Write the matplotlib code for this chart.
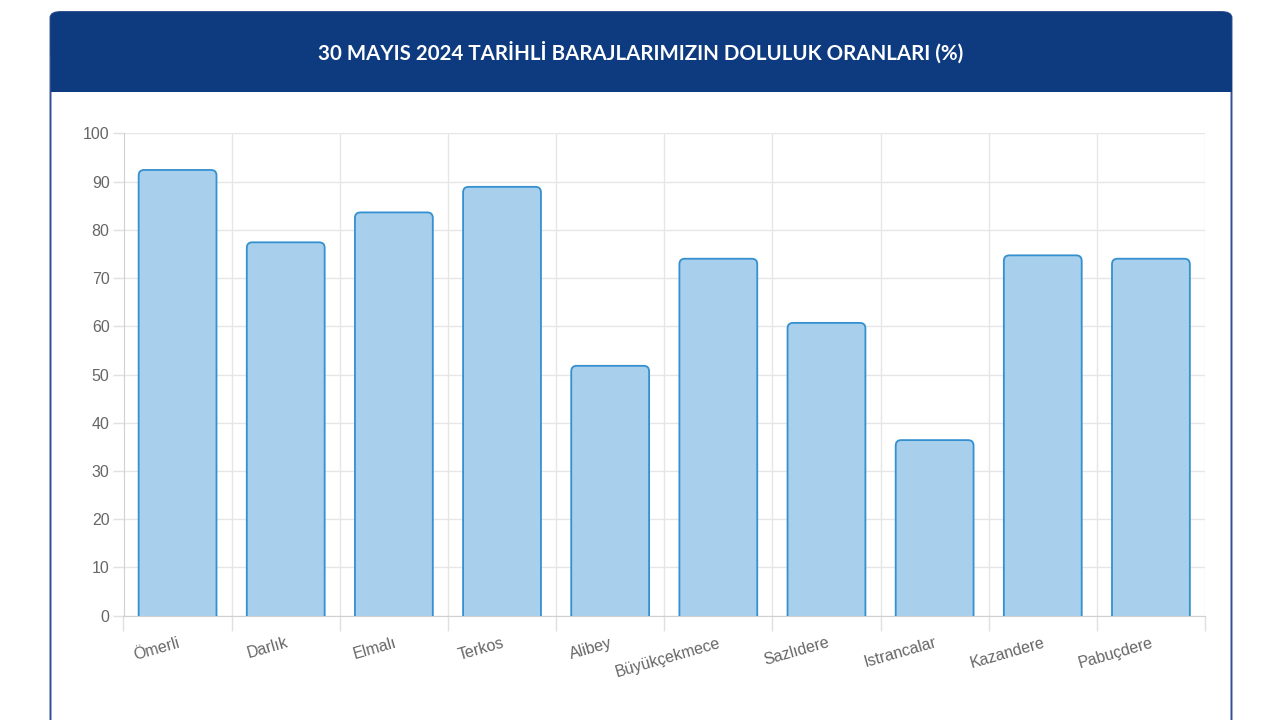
import matplotlib
matplotlib.use("Agg")
import matplotlib.pyplot as plt
from matplotlib.patches import FancyBboxPatch, Rectangle

dams = ["Ömerli", "Darlık", "Elmalı", "Terkos", "Alibey", "Büyükçekmece",
        "Sazlıdere", "Istrancalar", "Kazandere", "Pabuçdere"]
fill_pct = [92.4, 77.4, 83.6, 88.9, 51.8, 74.0, 60.7, 36.4, 74.7, 74.0]
yticks = list(range(0, 101, 10))
title = "30 MAYIS 2024 TARİHLİ BARAJLARIMIZIN DOLULUK ORANLARI (%)"

W, H = 1280, 720
fig = plt.figure(figsize=(W / 100, H / 100), dpi=100)
fig.patch.set_facecolor("white")


# pixel -> figure fraction
def fx(px):
    return px / W


def fy(py):
    return 1 - py / H


card_border = "#2f4f8f"
header_col = "#0e3a80"
fig.patches.append(FancyBboxPatch((fx(50.5), fy(760)), fx(1181), fy(12) - fy(760),
                                  boxstyle="round,pad=0,rounding_size=0.008",
                                  transform=fig.transFigure, facecolor="white",
                                  edgecolor=card_border, linewidth=1.4, zorder=-3))
fig.patches.append(FancyBboxPatch((fx(50.5), fy(60)), fx(1181), fy(12) - fy(60),
                                  boxstyle="round,pad=0,rounding_size=0.008",
                                  transform=fig.transFigure, facecolor=header_col,
                                  edgecolor="none", zorder=-2))
fig.patches.append(Rectangle((fx(50.5), fy(92)), fx(1181), fy(40) - fy(92),
                             transform=fig.transFigure, facecolor=header_col,
                             edgecolor="none", zorder=-2))
fig.text(fx(641), fy(52), title, color="white", fontsize=14.8, fontweight="bold",
         family=["Lato", "DejaVu Sans"], ha="center", va="center", zorder=3)

ax = fig.add_axes([fx(123.5), fy(615.7), fx(1205) - fx(123.5), fy(133.3) - fy(615.7)])
ax.set_facecolor("none")

x = list(range(len(dams)))
bars = ax.bar(x, fill_pct, width=0.72, color="none", edgecolor="none")

# rounded-top bars built from the bar rectangles
px_per_x = (1205 - 123.5) / len(dams)
px_per_y = (615.7 - 133.3) / 100
r_px = 5.5
for rect in bars:
    bx, bw, bh = rect.get_x(), rect.get_width(), rect.get_height()
    p = FancyBboxPatch((bx, -3), bw, bh + 3,
                       boxstyle="round,pad=0,rounding_size=%f" % (r_px / px_per_x),
                       mutation_aspect=px_per_x / px_per_y,
                       facecolor="#a8cfec", edgecolor="#3590d0", linewidth=1.3,
                       zorder=3, clip_on=True)
    ax.add_patch(p)

ax.set_xlim(-0.5, len(dams) - 0.5)
ax.set_ylim(0, 100)
ax.set_yticks(yticks)
ax.set_yticklabels([str(v) for v in yticks])

# vertical grid at category boundaries
ax.set_xticks([i - 0.5 for i in range(len(dams) + 1)], minor=False)
ax.set_xticklabels([])
ax.set_xticks(x, minor=True)
ax.set_xticklabels(dams, minor=True, rotation=16, ha="right", rotation_mode="anchor",
                   fontsize=11.5, color="#666666", family=["Liberation Sans", "DejaVu Sans"])
ax.tick_params(axis="x", which="minor", length=0, pad=14)
ax.tick_params(axis="x", which="major", length=11, color="#e0e0e0", width=1)
ax.tick_params(axis="y", length=8, color="#e0e0e0", width=1, pad=2,
               labelsize=11.5, labelcolor="#666666")
for lab in ax.get_yticklabels():
    lab.set_family(["Liberation Sans", "DejaVu Sans"])

ax.grid(True, which="major", color="#e6e6e6", linewidth=1)
ax.set_axisbelow(True)
for side in ["top", "right"]:
    ax.spines[side].set_visible(False)
ax.spines["left"].set_color("#d0d0d0")
ax.spines["bottom"].set_color("#d0d0d0")

fig.savefig("out.png", dpi=100, facecolor="white")
